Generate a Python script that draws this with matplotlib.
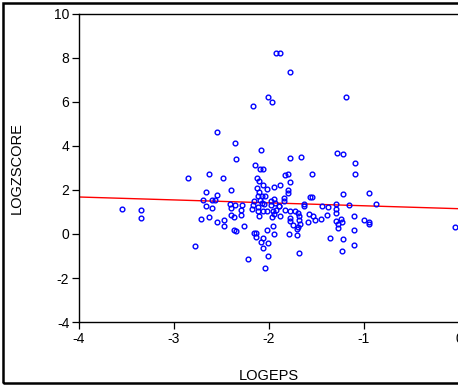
import matplotlib
matplotlib.use("Agg")
import matplotlib.pyplot as plt
from matplotlib.patches import Rectangle
import numpy as np

plt.rcParams['font.family'] = ['Liberation Sans', 'DejaVu Sans']

# LOGEPS / LOGZSCORE observations
logeps = [
    -1.929, -1.881, -1.779, -2.014, -1.968, -2.168, -1.189, -2.544, -2.361, -2.084,
    -2.344, -2.144, -2.098, -2.063, -2.629, -2.484, -2.124, -2.102, -2.856, -1.287,
    -1.221, -1.097, -1.097, -1.779, -1.661, -1.832, -1.803, -1.549, -1.779, -1.881,
    -1.947, -2.068, -2.123, -2.018, -1.803, -2.397, -2.663, -2.544, -2.103, -2.074,
    -2.121, -2.044, -1.840, -1.805, -1.565, -1.544, -1.223, -0.947, -2.695, -2.603,
    -2.568, -2.411, -2.358, -2.163, -2.095, -2.071, -1.982, -1.947, -1.845, -1.937,
    -1.898, -1.629, -1.628, -1.445, -1.379, -1.292, -1.295, -1.158, -0.871, -2.663,
    -2.597, -2.405, -2.284, -2.293, -2.184, -2.168, -2.116, -2.120, -2.058, -2.018,
    -2.056, -1.979, -1.953, -1.926, -1.895, -1.832, -1.777, -1.724, -1.700, -1.574,
    -1.532, -1.519, -1.453, -1.393, -1.295, -1.297, -1.242, -1.235, -1.274, -1.271,
    -1.105, -1.003, -0.947, -0.947, -1.105, -1.881, -1.779, -1.779, -1.687, -1.679,
    -1.586, -1.747, -1.672, -1.692, -1.705, -1.958, -1.786, -1.705, -1.947, -1.355,
    -1.221, -1.105, -1.232, -1.687, -2.102, -1.972, -1.944, -2.405, -2.365, -2.293,
    -2.719, -2.629, -2.544, -2.474, -2.474, -2.258, -2.365, -2.347, -2.016, -2.163,
    -2.132, -2.140, -2.060, -2.089, -2.014, -2.777, -2.060, -2.013, -2.226, -2.044,
    -3.547, -3.351, -3.351, -0.039,
]
logzscore = [
    8.227, 8.214, 7.350, 6.214, 6.000, 5.840, 6.214, 4.636, 4.123, 3.805,
    3.400, 3.145, 2.941, 2.977, 2.718, 2.559, 2.536, 2.418, 2.523, 3.673,
    3.623, 3.241, 2.714, 3.441, 3.509, 2.673, 2.727, 2.736, 2.350, 2.227,
    2.159, 2.214, 2.091, 2.045, 1.991, 1.986, 1.895, 1.782, 1.895, 1.727,
    1.714, 1.705, 1.645, 1.850, 1.695, 1.695, 1.809, 1.864, 1.545, 1.523,
    1.523, 1.364, 1.318, 1.514, 1.545, 1.395, 1.486, 1.582, 1.486, 1.395,
    1.286, 1.355, 1.259, 1.273, 1.241, 1.350, 1.150, 1.318, 1.364, 1.273,
    1.191, 1.173, 1.318, 1.105, 1.123, 1.318, 1.241, 1.023, 1.059, 1.068,
    1.364, 1.332, 1.045, 1.077, 1.259, 1.100, 1.068, 1.068, 0.945, 0.909,
    0.818, 0.614, 0.673, 0.855, 0.977, 0.605, 0.695, 0.532, 0.432, 0.264,
    0.818, 0.623, 0.532, 0.455, 0.195, 0.832, 0.718, 0.591, 0.818, 0.659,
    0.536, 0.423, 0.432, 0.305, 0.205, 0.377, 0.009, -0.059, -0.009, -0.182,
    -0.250, -0.514, -0.782, -0.873, 0.818, 0.795, 0.923, 0.877, 0.786, 0.855,
    0.668, 0.750, 0.523, 0.614, 0.386, 0.386, 0.173, 0.150, 0.182, 0.055,
    0.032, -0.136, -0.168, -0.341, -0.395, -0.545, -0.614, -1.009, -1.123, -1.568,
    1.123, 1.105, 0.741, 0.318,
]

# least squares line
fit_intercept = 1.15
fit_slope = -0.133

x_ticks = [-4, -3, -2, -1, 0]
y_ticks = [-4, -2, 0, 2, 4, 6, 8, 10]

fig = plt.figure(figsize=(4.58, 3.85), dpi=100)
ax = fig.add_axes([79 / 458, 1 - 322 / 385, 380 / 458, 308 / 385])

line_x = np.array([-4.0, 0.0])
ax.plot(line_x, fit_intercept + fit_slope * line_x, color='#ff0000', lw=1.0, zorder=2)
ax.plot(logeps, logzscore, 'o', ms=3.4, mfc='none', mec='#0000ff', mew=1.0, zorder=3)

ax.set_xlim(-4, 0)
ax.set_ylim(-4, 10)
ax.set_xticks(x_ticks)
ax.set_yticks(y_ticks)
ax.set_xticklabels([str(t) for t in x_ticks])
ax.set_yticklabels([str(t) for t in y_ticks])
ax.tick_params(direction='out', length=5, width=0.9, labelsize=10, pad=2,
               top=False, right=False)
ax.spines['right'].set_visible(False)
for s in ['left', 'bottom', 'top']:
    ax.spines[s].set_linewidth(1.0)

ax.set_xlabel('LOGEPS', fontsize=10.5, labelpad=17)
ax.set_ylabel('LOGZSCORE', fontsize=10.5, labelpad=22)

# outer frame
fig.patches.append(Rectangle((2.5 / 458, 2.5 / 385), 1.1, 1 - 5 / 385,
                             transform=fig.transFigure, fill=False,
                             edgecolor='black', lw=1.8))

fig.savefig('out.png', dpi=100)
